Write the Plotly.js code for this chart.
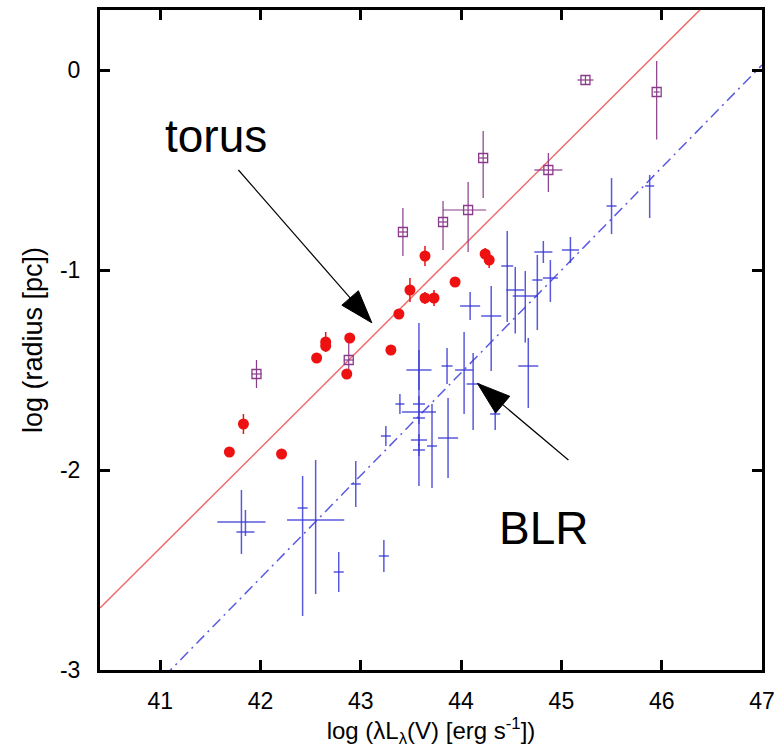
<!DOCTYPE html>
<html>
<head>
<meta charset="utf-8">
<script src="https://cdn.plot.ly/plotly-3.0.1.min.js"></script>
<style>html,body{margin:0;padding:0;background:#fff;}#chart{width:775px;height:752px;}</style>
</head>
<body>
<div id="chart"></div>
<script>
// ---- Torus (dust reverberation) : red filled circles ----
const torusL   = [41.69, 41.83, 42.21, 42.56, 42.65, 42.65, 42.89, 42.86, 43.30, 43.38, 43.49, 43.64, 43.64, 43.73, 43.94, 44.24, 44.28];
const torusR   = [-1.91, -1.77, -1.92, -1.44, -1.36, -1.38, -1.34, -1.52, -1.40, -1.22, -1.10, -0.93, -1.14, -1.14, -1.06, -0.92, -0.95];
const torusErr = [0.02, 0.05, 0.02, 0.02, 0.05, 0.03, 0.02, 0.02, 0.02, 0.02, 0.06, 0.05, 0.03, 0.04, 0.02, 0.03, 0.04];

// ---- Torus (interferometry) : purple open squares ----
const sqL       = [41.96, 42.88, 43.42, 43.82, 44.07, 44.22, 44.87, 45.24, 45.95];
const sqR       = [-1.52, -1.45, -0.81, -0.76, -0.70, -0.44, -0.50, -0.05, -0.11];
const sqXerrP   = [0.05, 0.05, 0.04, 0.04, 0.18, 0.04, 0.14, 0.08, 0.03];
const sqXerrM   = [0.05, 0.05, 0.04, 0.04, 0.25, 0.04, 0.14, 0.08, 0.03];
const sqYerrP   = [0.07, 0.09, 0.12, 0.105, 0.14, 0.135, 0.085, 0.02, 0.155];
const sqYerrM   = [0.07, 0.09, 0.12, 0.14, 0.21, 0.20, 0.11, 0.02, 0.237];

// ---- BLR : blue error crosses ----
const blrL     = [41.81, 41.85, 42.55, 42.42, 42.95, 42.78, 43.23, 43.58, 43.58, 43.58, 43.39, 43.58, 43.58, 43.58, 43.71, 43.87, 43.25, 43.86, 44.09, 44.30, 44.03, 44.12, 44.34, 44.67, 44.46, 44.54, 44.64, 44.76, 44.89, 44.82, 45.09, 45.50, 45.88];
const blrR     = [-2.26, -2.31, -2.25, -2.19, -2.07, -2.51, -2.43, -1.50, -1.71, -1.67, -1.67, -1.74, -1.85, -1.90, -1.88, -1.84, -1.83, -1.48, -1.18, -1.23, -1.50, -1.57, -1.72, -1.48, -0.98, -1.10, -1.13, -1.05, -1.04, -0.91, -0.90, -0.68, -0.58];
const blrXerrP = [0.24, 0.09, 0.285, 0.05, 0.05, 0.05, 0.05, 0.125, 0.17, 0.06, 0.045, 0.06, 0.08, 0.06, 0.05, 0.10, 0.05, 0.055, 0.10, 0.10, 0.09, 0.065, 0.05, 0.10, 0.06, 0.09, 0.125, 0.05, 0.075, 0.09, 0.085, 0.05, 0.045];
const blrXerrM = blrXerrP;
const blrYerrP = [0.16, 0.11, 0.30, 0.16, 0.115, 0.10, 0.08, 0.10, 0.445, 0.04, 0.05, 0.03, 0.03, 0.03, 0.21, 0.20, 0.05, 0.09, 0.07, 0.15, 0.19, 0.155, 0.08, 0.14, 0.175, 0.115, 0.125, 0.125, 0.09, 0.055, 0.065, 0.14, 0.055];
const blrYerrM = [0.16, 0.02, 0.37, 0.54, 0.115, 0.10, 0.08, 0.10, 0.37, 0.04, 0.05, 0.03, 0.03, 0.03, 0.21, 0.20, 0.05, 0.09, 0.07, 0.275, 0.22, 0.23, 0.08, 0.21, 0.28, 0.217, 0.233, 0.25, 0.12, 0.055, 0.065, 0.14, 0.16];

// ---- Fit lines: logR = intercept + slope*(logL - 47) ----
const torusFit = [0.5, 0.61];    // [slope, intercept at 47]
const blrFit   = [0.513, 0.025];

// ---- Axes ----
const xRange = [40.4, 47];
const yRange = [-3, 0.3];
const xTickVals = [41, 42, 43, 44, 45, 46, 47];
const xTickText = ['41', '42', '43', '44', '45', '46', '47'];
const yTickVals = [0, -1, -2, -3];
const yTickText = ['0', '-1', '-2', '-3'];

const RED = '#ee1111', PURPLE = '#8a3a8a', BLUE = 'rgba(60,60,215,0.85)';
const FONT = '"Liberation Sans", Arial, sans-serif';

function fitLine(p) { return xRange.map(x => p[1] + p[0] * (x - 47)); }

const traces = [
  { x: xRange, y: fitLine(torusFit), mode: 'lines', line: {color: '#f06a6a', width: 1.5}, hoverinfo: 'skip' },
  { x: xRange, y: fitLine(blrFit), mode: 'lines', line: {color: '#5a5ae0', width: 1.5, dash: '11px,5px,2px,5px'}, hoverinfo: 'skip' },
  { x: blrL, y: blrR, mode: 'markers', marker: {size: 1, color: BLUE},
    error_x: {type: 'data', symmetric: false, array: blrXerrP, arrayminus: blrXerrM, width: 0, thickness: 1.5, color: BLUE},
    error_y: {type: 'data', symmetric: false, array: blrYerrP, arrayminus: blrYerrM, width: 0, thickness: 1.5, color: BLUE} },
  { x: sqL, y: sqR, mode: 'markers', marker: {symbol: 'square-open', size: 9, color: PURPLE, line: {width: 1.3, color: PURPLE}},
    error_x: {type: 'data', symmetric: false, array: sqXerrP, arrayminus: sqXerrM, width: 0, thickness: 1.2, color: PURPLE},
    error_y: {type: 'data', symmetric: false, array: sqYerrP, arrayminus: sqYerrM, width: 0, thickness: 1.2, color: PURPLE} },
  { x: torusL, y: torusR, mode: 'markers', marker: {symbol: 'circle', size: 11, color: RED},
    error_y: {type: 'data', array: torusErr, width: 0, thickness: 1.5, color: RED} }
];

// plot area in pixels
const M = {l: 100, r: 13, t: 10, b: 82};
const W = 775, H = 752;
const ppx = (W - M.l - M.r) / (xRange[1] - xRange[0]);
const ppy = (H - M.t - M.b) / (yRange[1] - yRange[0]);

function arrowShapes(tail, tip) {
  const dxp = (tip[0] - tail[0]) * ppx, dyp = (tip[1] - tail[1]) * ppy;
  const len = Math.hypot(dxp, dyp);
  const ux = dxp / len, uy = dyp / len;
  const headL = 33, headW = 11;
  const bx = tip[0] - ux * headL / ppx, by = tip[1] - uy * headL / ppy;
  const c1 = [bx + (-uy) * headW / ppx, by + ux * headW / ppy];
  const c2 = [bx - (-uy) * headW / ppx, by - ux * headW / ppy];
  return [
    {type: 'line', xref: 'x', yref: 'y', x0: tail[0], y0: tail[1], x1: bx, y1: by, line: {color: '#000', width: 1.2}},
    {type: 'path', xref: 'x', yref: 'y', path: `M${tip[0]},${tip[1]} L${c1[0]},${c1[1]} L${c2[0]},${c2[1]} Z`, fillcolor: '#000', line: {color: '#000', width: 1}}
  ];
}

const shapes = [].concat(
  arrowShapes([41.78, -0.50], [43.11, -1.264]),
  arrowShapes([45.07, -1.95], [44.163, -1.567])
);

const axisCommon = {
  showgrid: false, zeroline: false, showline: true, linecolor: '#000', linewidth: 3,
  mirror: 'ticks', ticks: 'inside', ticklen: 10, tickwidth: 3, tickcolor: '#000',
  tickfont: {family: FONT, size: 23, color: '#000'}
};

const layout = {
  width: W, height: H,
  margin: M,
  paper_bgcolor: '#fff', plot_bgcolor: '#fff',
  showlegend: false,
  font: {family: FONT, color: '#000'},
  xaxis: Object.assign({}, axisCommon, {
    range: xRange, tickvals: xTickVals, ticktext: xTickText, ticklabelstandoff: 8,
    title: {text: 'log (λL<sub>λ</sub>(V) [erg s<sup>-1</sup>])', font: {family: FONT, size: 24, color: '#000'}, standoff: 10}
  }),
  yaxis: Object.assign({}, axisCommon, {
    range: yRange, tickvals: yTickVals, ticktext: yTickText, ticklabelstandoff: 12,
    title: {text: 'log (radius [pc])', font: {family: FONT, size: 27, color: '#000'}, standoff: 10}
  }),
  shapes: shapes,
  annotations: [
    {x: 41.56, y: -0.33, xref: 'x', yref: 'y', text: 'torus', showarrow: false, font: {family: FONT, size: 46, color: '#000'}},
    {x: 44.82, y: -2.29, xref: 'x', yref: 'y', text: 'BLR', showarrow: false, font: {family: FONT, size: 46, color: '#000'}}
  ]
};

Plotly.newPlot('chart', traces, layout, {displayModeBar: false, staticPlot: true});
</script>
</body>
</html>
